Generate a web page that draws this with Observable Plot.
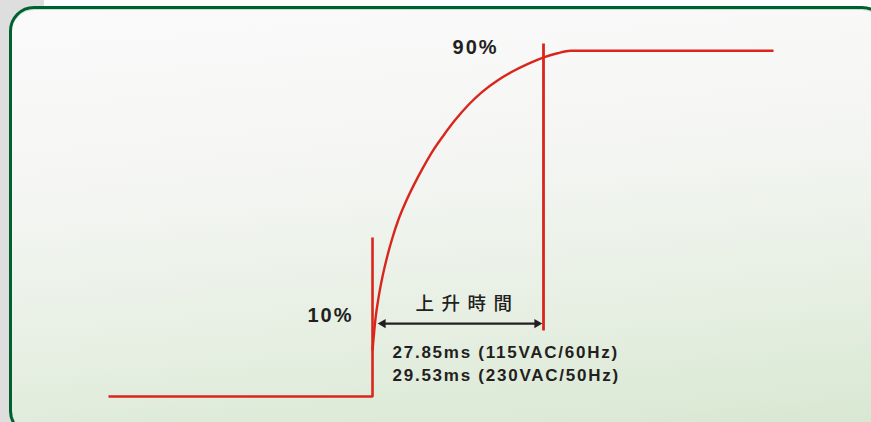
<!DOCTYPE html>
<html>
<head>
<meta charset="utf-8">
<script src="https://cdn.jsdelivr.net/npm/d3@7"></script>
<script src="https://cdn.jsdelivr.net/npm/@observablehq/plot@0.6"></script>
<style>
  html, body { margin: 0; padding: 0; background: #ffffff; }
  #wrap { position: relative; width: 871px; height: 422px; overflow: hidden; background: #ffffff; }
  #strip { position: absolute; left: 0; top: 0; width: 44px; height: 422px; background: #dedede; }
  #panel {
    position: absolute; left: 9px; top: 6px; width: 872px; height: 424px;
    border: 3px solid #00602f; border-radius: 25px;
    background: linear-gradient(175deg, #fafafa 0%, #f5f6f4 35%, #e6efe2 72%, #d7e7d0 100%);
    box-shadow: inset 0 1px 0 #c4e2cb;
  }
  #chart { position: absolute; left: 0; top: 0; }
</style>
</head>
<body>
<div id="wrap">
  <div id="strip"></div>
  <div id="panel"></div>
  <div id="chart"></div>
</div>
<script>
// time in ms (0 = 10% point), level in % of final output
const baseTime  = [-43.0, 0, 0];
const baseLevel = [0, 0, 46.0];

const curveTime  = [0, 0.49, 0.98, 1.63, 2.44, 3.26, 4.23, 5.37, 6.68, 8.14, 9.77, 11.56, 13.52, 15.64, 17.92, 20.36, 22.8, 25.41, 28.01, 30.13, 32.25, 65.31];
const curveLevel = [13.3, 22.6, 28.6, 34.7, 40.8, 46.0, 51.2, 56.1, 61.0, 65.9, 70.9, 75.5, 80.1, 84.4, 88.2, 91.4, 94.0, 96.3, 98.2, 99.3, 100, 100];

const riseTime = 27.85;
const marker90Level = [19.1, 102.1];

const arrowLevel = 21.1;
const arrowSpan = [1.3, 27.2];

const labelText  = ["10%", "90%", "上升時間", "27.85ms (115VAC/60Hz)", "29.53ms (230VAC/50Hz)"];
const labelTime  = [-6.84, 16.78, 7.0, 3.26, 3.26];
const labelLevel = [23.3, 100.8, 26.6, 12.8, 6.2];

const base = baseTime.map((t, i) => ({t, v: baseLevel[i]}));
const curve = curveTime.map((t, i) => ({t, v: curveLevel[i]}));
const marker90 = marker90Level.map(v => ({t: riseTime, v}));
const shaft = arrowSpan.map(t => ({t, v: arrowLevel}));
const labels = labelText.map((s, i) => ({s, t: labelTime[i], v: labelLevel[i]}));

const red = "#d9261c";
const ink = "#231f20";

const plot = Plot.plot({
  width: 871,
  height: 422,
  margin: 0,
  style: {background: "transparent", overflow: "visible"},
  x: {domain: [-60.59, 81.27], axis: null},
  y: {domain: [-7.52, 114.55], axis: null},
  marks: [
    Plot.line(base, {x: "t", y: "v", stroke: red, strokeWidth: 2.6, strokeLinejoin: "miter", strokeLinecap: "butt"}),
    Plot.line(curve, {x: "t", y: "v", stroke: red, strokeWidth: 2.4, curve: "monotone-x", strokeLinecap: "butt"}),
    Plot.line(marker90, {x: "t", y: "v", stroke: red, strokeWidth: 2.8, strokeLinecap: "butt"}),
    Plot.line(shaft, {x: "t", y: "v", stroke: ink, strokeWidth: 2.2, strokeLinecap: "butt"}),
    Plot.dot(shaft.slice(0, 1), {x: "t", y: "v", symbol: "triangle", r: 3.4, fill: ink, stroke: "none", rotate: -90, dx: 2.5}),
    Plot.dot(shaft.slice(1), {x: "t", y: "v", symbol: "triangle", r: 3.4, fill: ink, stroke: "none", rotate: 90, dx: -2.5}),
    Plot.text(labels.slice(0, 2), {x: "t", y: "v", text: "s", fill: ink, fontSize: 20, fontWeight: "bold", fontFamily: "Liberation Sans, Arial, sans-serif", textAnchor: "middle"}),
    Plot.text(labels.slice(2, 3), {x: "t", y: "v", text: "s", fill: ink, fontSize: 18.5, fontWeight: 500, fontFamily: "Noto Sans CJK TC, sans-serif", textAnchor: "start"}),
    Plot.text(labels.slice(3), {x: "t", y: "v", text: "s", fill: ink, fontSize: 17, fontWeight: "bold", fontFamily: "Liberation Sans, Arial, sans-serif", textAnchor: "start"})
  ]
});

d3.select(plot).selectAll("text").each(function() {
  const s = this.textContent;
  if (s === "上升時間") this.setAttribute("letter-spacing", "7.5px");
  else if (s.endsWith("%")) this.setAttribute("letter-spacing", "2px");
  else this.setAttribute("letter-spacing", "1.75px");
});

document.getElementById("chart").appendChild(plot);
</script>
</body>
</html>
